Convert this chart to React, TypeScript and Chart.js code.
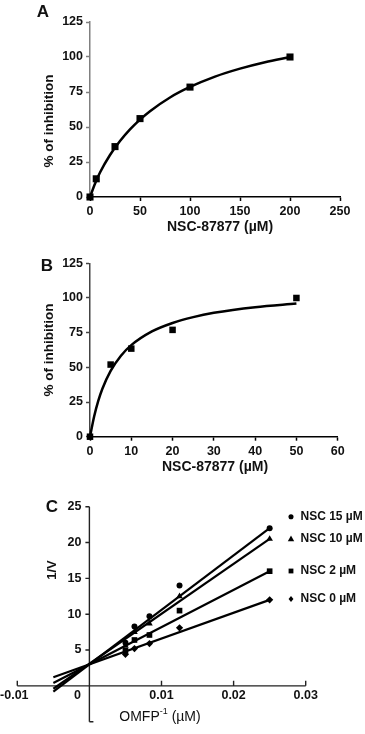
import React, { useEffect, useRef } from 'react';
import { Chart, registerables } from 'chart.js';
Chart.register(...registerables);

const FONT = "'Liberation Sans', Arial, Helvetica, sans-serif";

// ---------- Panel A ----------
const aConc = [0, 6.25, 25, 50, 100, 200];
const aInhib = [0, 13, 36, 56, 78.5, 100];
const aFitX = [0, 5, 10, 20, 30, 40, 50, 60, 80, 100, 125, 150, 175, 200];
const aFitY = [0, 9.5, 17.5, 30, 40, 48.3, 55.3, 61.3, 71.1, 78.6, 86, 91.7, 96.3, 100];
const aXTicks = [0, 50, 100, 150, 200, 250];
const aYTicks = [0, 25, 50, 75, 100, 125];

// ---------- Panel B ----------
const bConc = [0, 5, 10, 20, 50];
const bInhib = [0, 52, 63.5, 77, 100];
const bFitX = [0, 1, 2, 3, 5, 7.5, 10, 15, 20, 25, 30, 40, 50];
const bFitY = [0, 14.6, 25.8, 34.6, 47.5, 58.4, 66, 75.9, 82, 86.2, 89.3, 93.4, 96];
const bXTicks = [0, 10, 20, 30, 40, 50, 60];
const bYTicks = [0, 25, 50, 75, 100, 125];

// ---------- Panel C ----------
const cX = [0.005, 0.00625, 0.00833, 0.0125, 0.025];
const cLabels = ['NSC 15 µM', 'NSC 10 µM', 'NSC 2 µM', 'NSC 0 µM'];
const c15 = [6.0, 8.3, 9.7, 14.0, 22.0];
const c10 = [5.6, 7.5, 8.7, 12.5, 20.5];
const c2 = [4.9, 6.4, 7.1, 10.5, 16.0];
const c0 = [4.4, 5.2, 5.9, 8.1, 12.0];
const cLineX = [-0.005, 0.025];
const cLine15 = [-0.8, 22.0];
const cLine10 = [-0.4, 20.5];
const cLine2 = [0.4, 16.0];
const cLine0 = [1.2, 12.0];
const cXTicks = [-0.01, 0, 0.01, 0.02, 0.03];
const cYTicks = [-5, 0, 5, 10, 15, 20, 25];

const W = 365;
const TEXT = '#111';
const tickFont = { family: FONT, size: 12.5, weight: 'bold' as const };

type TextItem = { text: string; x: number; y: number; font: string; rot?: number; align?: CanvasTextAlign };

function textPlugin(id: string, items: TextItem[]) {
  return {
    id,
    afterDraw(chart: any) {
      const ctx = chart.ctx as CanvasRenderingContext2D;
      items.forEach((it) => {
        ctx.save();
        ctx.translate(it.x, it.y);
        if (it.rot) ctx.rotate(it.rot);
        ctx.font = it.font;
        ctx.fillStyle = TEXT;
        ctx.textAlign = it.align || 'center';
        ctx.textBaseline = 'middle';
        ctx.fillText(it.text, 0, 0);
        ctx.restore();
      });
    },
  };
}

function axis(min: number, max: number, ticksArr: number[], color: string, fit: (s: any) => void) {
  return {
    type: 'linear' as const,
    min,
    max,
    afterBuildTicks: (s: any) => {
      s.ticks = ticksArr.map((v) => ({ value: v }));
    },
    ticks: { font: tickFont, color: TEXT, padding: 3, maxRotation: 0, autoSkip: false },
    grid: {
      display: true,
      drawOnChartArea: false,
      drawTicks: true,
      tickLength: 4,
      tickWidth: 1.5,
      tickColor: color,
      color,
    },
    border: { display: true, color, width: 1.5 },
    afterFit: fit,
  };
}

function pts(xs: number[], ys: number[]) {
  return xs.map((x, i) => ({ x, y: ys[i] }));
}

function hyperbolaConfig(opts: {
  conc: number[];
  inhib: number[];
  fitX: number[];
  fitY: number[];
  xMax: number;
  xTicks: number[];
  yTicks: number[];
  yColor: string;
  areaTop: number;
  areaBottom: number;
  areaRight: number;
  height: number;
  markerR: number;
  plugin: any;
}) {
  return {
    type: 'scatter' as const,
    data: {
      datasets: [
        {
          data: pts(opts.fitX, opts.fitY),
          showLine: true,
          borderColor: '#000',
          borderWidth: 2.5,
          pointRadius: 0,
          cubicInterpolationMode: 'monotone' as const,
          clip: false,
        },
        {
          data: pts(opts.conc, opts.inhib),
          showLine: false,
          pointStyle: 'rect' as const,
          pointRadius: opts.markerR,
          backgroundColor: '#000',
          borderColor: '#000',
          borderWidth: 0,
          clip: false,
        },
      ],
    },
    options: {
      responsive: false,
      animation: false as const,
      devicePixelRatio: 1,
      layout: { padding: { left: 0, top: opts.areaTop, right: W - opts.areaRight, bottom: 0 } },
      plugins: { legend: { display: false }, tooltip: { enabled: false } },
      scales: {
        x: axis(0, opts.xMax, opts.xTicks, '#000', (s: any) => {
          s.height = opts.height - opts.areaBottom;
        }),
        y: axis(0, 125, opts.yTicks, opts.yColor, (s: any) => {
          s.width = 90;
        }),
      },
    },
    plugins: [opts.plugin],
  };
}

const A_TOP = 0;
const A_H = 238;
const B_TOP = 238;
const B_H = 238;
const C_TOP = 476;
const C_H = 258;

function configA() {
  return hyperbolaConfig({
    conc: aConc,
    inhib: aInhib,
    fitX: aFitX,
    fitY: aFitY,
    xMax: 250,
    xTicks: aXTicks,
    yTicks: aYTicks,
    yColor: '#808080',
    areaTop: 22 - A_TOP,
    areaBottom: 197 - A_TOP,
    areaRight: 340,
    height: A_H,
    markerR: 5,
    plugin: textPlugin('textsA', [
      { text: 'A', x: 43, y: 12 - A_TOP, font: `bold 17px ${FONT}` },
      { text: '% of inhibition', x: 49, y: 121 - A_TOP, font: `bold 13.5px ${FONT}`, rot: -Math.PI / 2 },
      { text: 'NSC-87877 (µM)', x: 220, y: 227 - A_TOP, font: `bold 14px ${FONT}` },
    ]),
  });
}

function configB() {
  return hyperbolaConfig({
    conc: bConc,
    inhib: bInhib,
    fitX: bFitX,
    fitY: bFitY,
    xMax: 60,
    xTicks: bXTicks,
    yTicks: bYTicks,
    yColor: '#444',
    areaTop: 263.3 - B_TOP,
    areaBottom: 436.7 - B_TOP,
    areaRight: 337.7,
    height: B_H,
    markerR: 4.6,
    plugin: textPlugin('textsB', [
      { text: 'B', x: 47, y: 266 - B_TOP, font: `bold 17px ${FONT}` },
      { text: '% of inhibition', x: 49, y: 350 - B_TOP, font: `bold 13.5px ${FONT}`, rot: -Math.PI / 2 },
      { text: 'NSC-87877 (µM)', x: 215, y: 467 - B_TOP, font: `bold 14px ${FONT}` },
    ]),
  });
}

const cStyles: { style: string; r: number }[] = [
  { style: 'circle', r: 3 },
  { style: 'triangle', r: 3.8 },
  { style: 'rect', r: 4 },
  { style: 'rectRot', r: 3.6 },
];

function drawMarker(ctx: CanvasRenderingContext2D, style: string, x: number, y: number, r: number) {
  ctx.beginPath();
  if (style === 'circle') {
    ctx.arc(x, y, r, 0, Math.PI * 2);
  } else if (style === 'triangle') {
    ctx.moveTo(x, y - r * 1.1);
    ctx.lineTo(x + r, y + r * 0.7);
    ctx.lineTo(x - r, y + r * 0.7);
    ctx.closePath();
  } else if (style === 'rect') {
    const s = r * Math.SQRT1_2;
    ctx.rect(x - s, y - s, 2 * s, 2 * s);
  } else {
    ctx.moveTo(x, y - r);
    ctx.lineTo(x + r * 0.8, y);
    ctx.lineTo(x, y + r);
    ctx.lineTo(x - r * 0.8, y);
    ctx.closePath();
  }
  ctx.fill();
}

function configC() {
  const series = [c15, c10, c2, c0];
  const lines = [cLine15, cLine10, cLine2, cLine0];
  const legendY = [516.7, 539, 571, 599];

  const axesPlugin = {
    id: 'cAxes',
    beforeDatasetsDraw(chart: any) {
      const ctx = chart.ctx as CanvasRenderingContext2D;
      const { x, y } = chart.scales;
      const x0 = x.getPixelForValue(0);
      const y0 = y.getPixelForValue(0);
      ctx.save();
      ctx.strokeStyle = '#222';
      ctx.lineWidth = 1.4;
      ctx.beginPath();
      ctx.moveTo(x.getPixelForValue(cXTicks[0]), y0);
      ctx.lineTo(x.getPixelForValue(cXTicks[cXTicks.length - 1]), y0);
      ctx.moveTo(x0, y.getPixelForValue(cYTicks[0]));
      ctx.lineTo(x0, y.getPixelForValue(cYTicks[cYTicks.length - 1]));
      cXTicks.forEach((v) => {
        if (v === 0) return;
        const px = x.getPixelForValue(v);
        ctx.moveTo(px, y0);
        ctx.lineTo(px, y0 - 5);
      });
      cYTicks.forEach((v) => {
        if (v === 0) return;
        const py = y.getPixelForValue(v);
        if (v < 0) {
          ctx.moveTo(x0, py);
          ctx.lineTo(x0 + 4, py);
        } else {
          ctx.moveTo(x0 - 4, py);
          ctx.lineTo(x0, py);
        }
      });
      ctx.stroke();
      ctx.restore();
    },
    afterDraw(chart: any) {
      const ctx = chart.ctx as CanvasRenderingContext2D;
      const { x, y } = chart.scales;
      const x0 = x.getPixelForValue(0);
      const y0 = y.getPixelForValue(0);
      ctx.save();
      ctx.fillStyle = TEXT;
      ctx.font = `bold 12.5px ${FONT}`;
      ctx.textBaseline = 'middle';
      ctx.textAlign = 'center';
      cXTicks.forEach((v) => {
        let px = x.getPixelForValue(v);
        if (v === 0) px -= 12;
        if (v < 0) px -= 3;
        ctx.fillText(String(v), px, y0 + 10);
      });
      ctx.textAlign = 'right';
      cYTicks.forEach((v) => {
        if (v <= 0) return;
        ctx.fillText(String(v), x0 - 8, y.getPixelForValue(v));
      });
      // legend
      ctx.font = `bold 12px ${FONT}`;
      ctx.textAlign = 'left';
      cLabels.forEach((lab, i) => {
        const ly = legendY[i] - C_TOP;
        ctx.fillStyle = '#000';
        drawMarker(ctx, cStyles[i].style, 291, ly, cStyles[i].r * 0.85);
        ctx.fillStyle = TEXT;
        ctx.fillText(lab, 300.5, ly);
      });
      // panel letter and axis titles
      ctx.textAlign = 'center';
      ctx.font = `bold 17px ${FONT}`;
      ctx.fillText('C', 52, 507 - C_TOP);
      ctx.save();
      ctx.translate(52, 570 - C_TOP);
      ctx.rotate(-Math.PI / 2);
      ctx.font = `bold 13px ${FONT}`;
      ctx.fillText('1/V', 0, 0);
      ctx.restore();
      // x title with superscript
      const main = 'OMFP';
      const sup = '-1';
      const tail = ' (µM)';
      const fMain = `14px ${FONT}`;
      const fSup = `9px ${FONT}`;
      ctx.font = fMain;
      const w1 = ctx.measureText(main).width;
      const w3 = ctx.measureText(tail).width;
      ctx.font = fSup;
      const w2 = ctx.measureText(sup).width;
      const total = w1 + w2 + w3;
      let tx = 160 - total / 2;
      const ty = 717 - C_TOP;
      ctx.textAlign = 'left';
      ctx.font = fMain;
      ctx.fillText(main, tx, ty);
      tx += w1;
      ctx.font = fSup;
      ctx.fillText(sup, tx, ty - 5);
      tx += w2;
      ctx.font = fMain;
      ctx.fillText(tail, tx, ty);
      ctx.restore();
    },
  };

  const datasets: any[] = [];
  lines.forEach((ln) => {
    datasets.push({
      data: pts(cLineX, ln),
      showLine: true,
      borderColor: '#000',
      borderWidth: 2.2,
      pointRadius: 0,
      clip: false,
    });
  });
  series.forEach((s, i) => {
    datasets.push({
      data: pts(cX, s),
      showLine: false,
      pointStyle: cStyles[i].style,
      pointRadius: cStyles[i].r,
      backgroundColor: '#000',
      borderColor: '#000',
      borderWidth: 0,
      clip: false,
    });
  });

  return {
    type: 'scatter' as const,
    data: { datasets },
    options: {
      responsive: false,
      animation: false as const,
      devicePixelRatio: 1,
      layout: {
        padding: { left: 17.3, right: W - 305.7, top: 506.7 - C_TOP, bottom: C_TOP + C_H - 721.7 },
      },
      plugins: { legend: { display: false }, tooltip: { enabled: false } },
      scales: {
        x: { type: 'linear' as const, min: cXTicks[0], max: cXTicks[cXTicks.length - 1], display: false },
        y: { type: 'linear' as const, min: cYTicks[0], max: cYTicks[cYTicks.length - 1], display: false },
      },
    },
    plugins: [axesPlugin],
  };
}

function ChartCanvas({ top, height, makeConfig }: { top: number; height: number; makeConfig: () => any }) {
  const ref = useRef<HTMLCanvasElement>(null);
  useEffect(() => {
    const chart = new Chart(ref.current as HTMLCanvasElement, makeConfig());
    return () => chart.destroy();
  }, []);
  return (
    <canvas
      ref={ref}
      width={W}
      height={height}
      style={{ position: 'absolute', left: 0, top, width: W, height, display: 'block' }}
    />
  );
}

export default function App() {
  return (
    <div style={{ position: 'absolute', left: 0, top: 0, width: W, height: 734, background: '#fff' }}>
      <ChartCanvas top={A_TOP} height={A_H} makeConfig={configA} />
      <ChartCanvas top={B_TOP} height={B_H} makeConfig={configB} />
      <ChartCanvas top={C_TOP} height={C_H} makeConfig={configC} />
    </div>
  );
}
